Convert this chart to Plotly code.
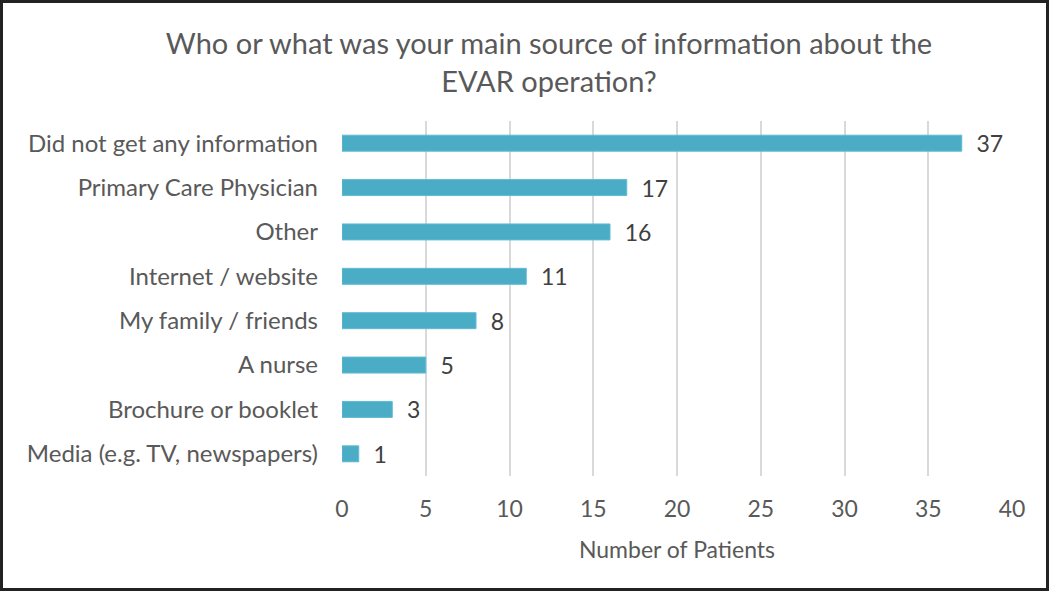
import plotly.graph_objects as go

categories = ["Did not get any information", "Primary Care Physician", "Other",
              "Internet / website", "My family / friends", "A nurse",
              "Brochure or booklet", "Media (e.g. TV, newspapers)"]
values = [37, 17, 16, 11, 8, 5, 3, 1]
x_ticks = [0, 5, 10, 15, 20, 25, 30, 35, 40]

FONT = "Lato, 'Open Sans', sans-serif"
TXT = "#595959"
W, H = 1050, 592
ML, MR, MT, MB = 342, 38, 121, 116
PW, PH = W - ML - MR, H - MT - MB

fig = go.Figure(go.Bar(
    y=categories, x=values, orientation="h",
    marker=dict(color="#4BACC6", line=dict(color="#5FBBD3", width=1)),
    width=0.36,
    text=["\u00a0\u00a0" + str(v) for v in values], textposition="outside",
    textfont=dict(size=23, color="#404040", family=FONT),
    constraintext="none",
    cliponaxis=False,
))

fig.update_layout(
    width=W, height=H,
    paper_bgcolor="white", plot_bgcolor="white",
    margin=dict(l=ML, r=MR, t=MT, b=MB, autoexpand=False),
    font=dict(family=FONT, color=TXT),
    title=dict(text="Who or what was your main source of information about the<br>EVAR operation?",
               x=549 / W, xanchor="center", y=1 - 54 / H, yanchor="middle",
               font=dict(size=29, color=TXT, family=FONT)),
    showlegend=False,
    shapes=[dict(type="rect", xref="paper", yref="paper",
                 x0=-(ML - 1.5) / PW, x1=1 + (MR - 2.5) / PW,
                 y0=-(MB - 2.5) / PH, y1=1 + (MT - 1.5) / PH,
                 line=dict(color="#222", width=3))],
)
fig.update_xaxes(range=[0, 40], tickvals=x_ticks, showgrid=True, gridcolor="#D9D9D9", gridwidth=1.5,
                 zeroline=False, showline=False, ticks="", tickfont=dict(size=23, color=TXT),
                 ticklabelstandoff=17, automargin=False,
                 title=dict(text="Number of Patients", font=dict(size=23, color=TXT), standoff=20))
fig.update_yaxes(categoryorder="array", categoryarray=categories[::-1], showgrid=False,
                 showline=False, ticks="", tickfont=dict(size=24, color=TXT), ticklabelstandoff=23,
                 automargin=False)

fig.write_html("out.html", config={"displayModeBar": False},
               post_script="document.body.style.margin='0';")
